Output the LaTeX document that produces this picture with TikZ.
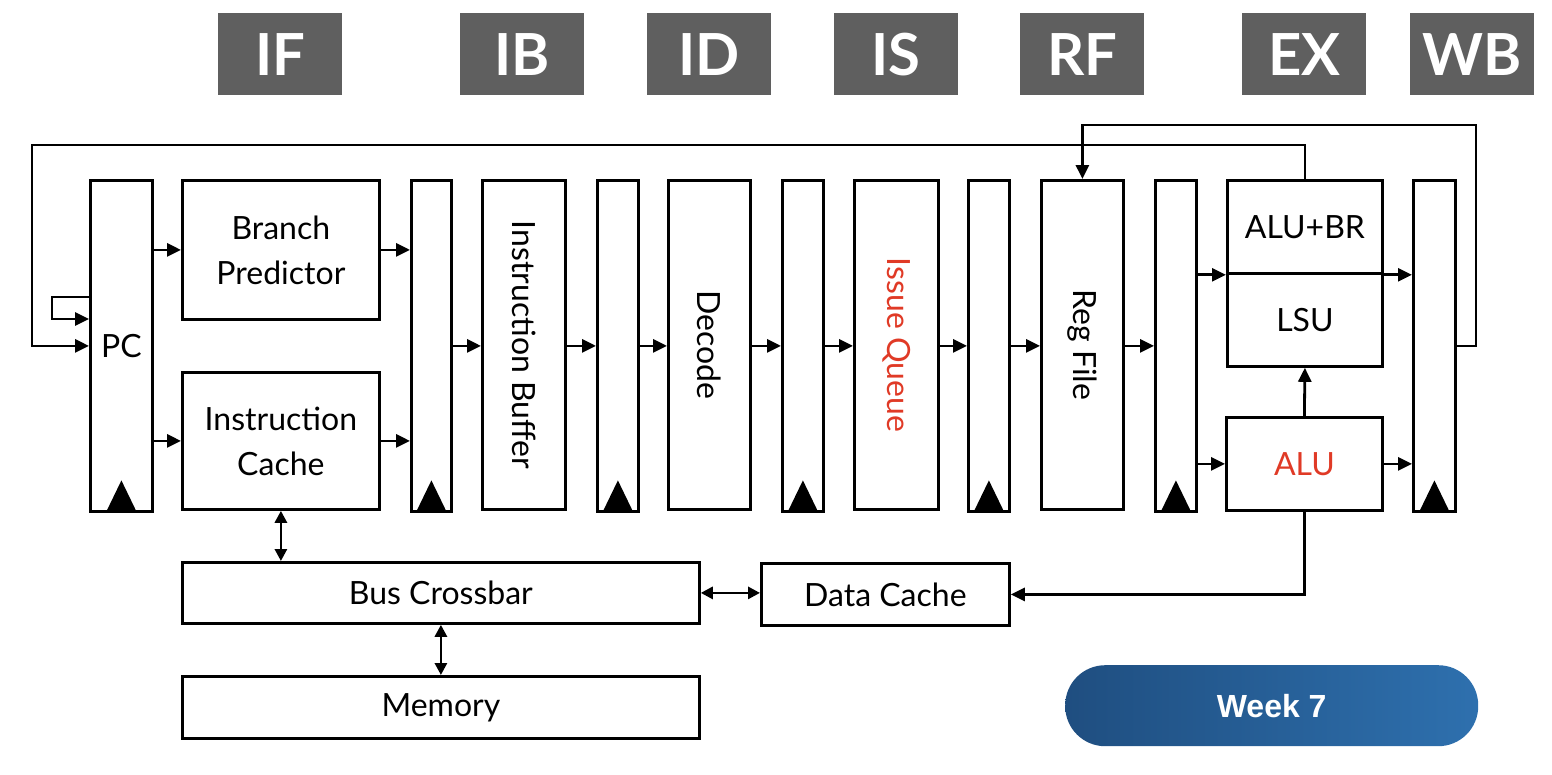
\documentclass[tikz,border=0pt]{standalone}
\usepackage{fontspec}
\setmainfont{Lato}
\setsansfont{Liberation Sans}
\usetikzlibrary{arrows.meta}
\definecolor{stagegray}{HTML}{5F5F5F}
\definecolor{hlred}{HTML}{E03A26}
\definecolor{pillL}{HTML}{1F4E80}
\definecolor{pillR}{HTML}{2E70AE}
\begin{document}
\begin{tikzpicture}[x=1pt,y=-1pt,
  box/.style={draw, line width=2.8pt, inner sep=0pt, anchor=north west,
    font=\fontsize{32}{45}\selectfont, align=center},
  reg/.style={box, path picture={\fill ([xshift=-15pt]path picture bounding box.south) -- ([xshift=15pt]path picture bounding box.south) -- ([yshift=31pt]path picture bounding box.south) -- cycle;}},
  stage/.style={fill=stagegray, text=white, font=\fontsize{58}{58}\selectfont\bfseries,
    anchor=north west, inner sep=0pt, minimum width=124pt, minimum height=82pt},
  vtext/.style={rotate=-90, font=\fontsize{32}{36}\selectfont},
  arr/.style={line width=2.8pt, -{Triangle[length=14pt,width=13pt]}},
  darr/.style={line width=2.8pt, {Triangle[length=12pt,width=12pt]}-{Triangle[length=12pt,width=12pt]}}
]
\useasboundingbox (0,0) rectangle (1552,774);

% stage labels
\node[stage] (sIF) at (218,13) {IF};
\node[stage] (sIB) at (460,13) {IB};
\node[stage] (sID) at (647,13) {ID};
\node[stage] (sIS) at (834,13) {IS};
\node[stage] (sRF) at (1020,13) {RF};
\node[stage] (sEX) at (1242,13) {EX};
\node[stage] (sWB) at (1410,13) {WB};

% pipeline
\node[reg, minimum width=62pt, minimum height=331pt] (pc) at (89,179) {PC};
\node[box, minimum width=197pt, minimum height=139pt] (bp) at (181,179) {Branch\\Predictor};
\node[box, minimum width=197pt, minimum height=137pt] (ic) at (181,371) {Instruction\\Cache};
\node[reg, minimum width=40pt, minimum height=331pt] (r1) at (410,179) {};
\node[box, minimum width=83pt, minimum height=329pt] (ib) at (481,179) {};
\node[vtext] (ibt) at (ib.center) {Instruction Buffer};
\node[reg, minimum width=41pt, minimum height=331pt] (r2) at (596,179) {};
\node[box, minimum width=82pt, minimum height=329pt] (dec) at (667,179) {};
\node[vtext] (dect) at (dec.center) {Decode};
\node[reg, minimum width=41pt, minimum height=331pt] (r3) at (781,179) {};
\node[box, minimum width=84pt, minimum height=329pt] (iq) at (853,179) {};
\node[vtext, text=hlred] (iqt) at (iq.center) {Issue Queue};
\node[reg, minimum width=41pt, minimum height=331pt] (r4) at (967,179) {};
\node[box, minimum width=82pt, minimum height=329pt] (rf) at (1040,179) {};
\node[vtext] (rft) at (rf.center) {Reg File};
\node[reg, minimum width=41pt, minimum height=331pt] (r5) at (1154,179) {};
\node[box, minimum width=155pt, minimum height=93pt] (alubr) at (1226,179) {ALU+BR};
\node[box, minimum width=155pt, minimum height=93pt] (lsu) at (1226,272) {LSU};
\node[box, minimum width=156pt, minimum height=93pt, text=hlred] (alu) at (1225,416) {ALU};
\node[reg, minimum width=42pt, minimum height=331pt] (r6) at (1412,179) {};

% memory system
\node[box, minimum width=517pt, minimum height=61pt] (bus) at (181,561) {Bus Crossbar};
\node[box, minimum width=248pt, minimum height=62pt] (dc) at (760,562) {Data Cache};
\node[box, minimum width=517pt, minimum height=62pt] (mem) at (181,675) {Memory};

% week pill
\node[anchor=north west, minimum width=413pt, minimum height=81pt, rounded corners=40pt,
  left color=pillL, right color=pillR, text=white, inner sep=0pt,
  font=\fontsize{32}{32}\selectfont\sffamily\bfseries] (week) at (1065,665) {Week 7};

% forward arrows
\draw[arr] (pc.east |- bp) -- (bp.west);
\draw[arr] (pc.east |- ic) -- (ic.west);
\draw[arr] (bp.east) -- (bp.east -| r1.west);
\draw[arr] (ic.east) -- (ic.east -| r1.west);
\draw[arr] (r1.east) -- (r1.east -| ib.west);
\draw[arr] (ib.east |- r2) -- (r2.west);
\draw[arr] (r2.east) -- (r2.east -| dec.west);
\draw[arr] (dec.east |- r3) -- (r3.west);
\draw[arr] (r3.east) -- (r3.east -| iq.west);
\draw[arr] (iq.east |- r4) -- (r4.west);
\draw[arr] (r4.east) -- (r4.east -| rf.west);
\draw[arr] (rf.east |- r5) -- (r5.west);
\draw[arr] (r5.east |- alubr.south west) -- (alubr.south west);
\draw[arr] (r5.east |- alu) -- (alu.west);
\draw[arr] (alubr.south east) -- (alubr.south east -| r6.west);
\draw[arr] (alu.east) -- (alu.east -| r6.west);
\draw[arr] (alu.north) -- (lsu.south);
\draw[arr] (alu.south) |- (dc.east);

% feedback paths
\coordinate (fb1) at (32,145);
\draw[arr] (alubr.north) |- (fb1) |- (pc.west);
\coordinate (sl1) at (52,297);
\coordinate (sl2) at (89,319);
\draw[arr] (pc.west |- sl1) -- (sl1) |- (sl2);
\coordinate (fb2) at (1476,125);
\draw[arr] (r6.east) -| (fb2) -| (rf.north);

% memory arrows
\draw[darr] (ic.south) -- (ic.south |- bus.north);
\draw[darr] (bus.south) -- (mem.north);
\draw[darr] (bus.east) -- (bus.east -| dc.west);
\end{tikzpicture}
\end{document}
